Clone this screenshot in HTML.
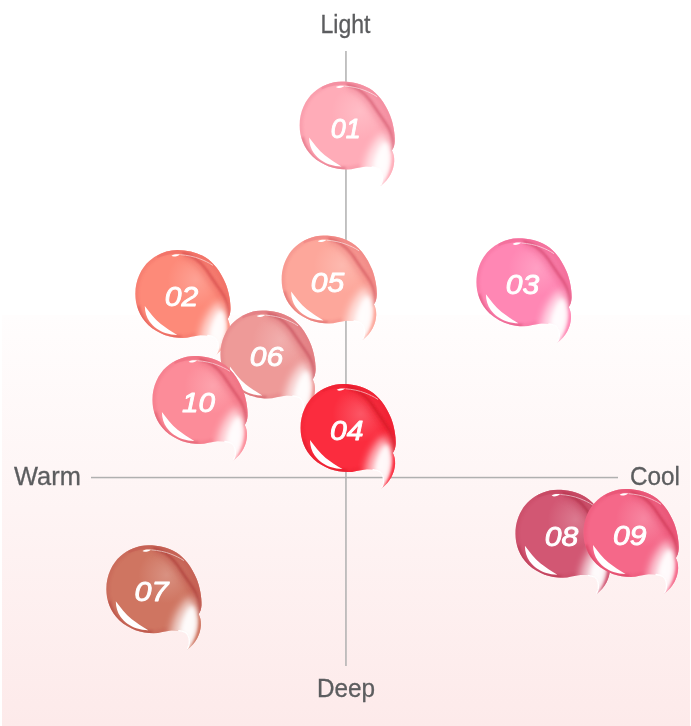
<!DOCTYPE html>
<html><head><meta charset="utf-8"><title>Color chart</title>
<style>
html,body{margin:0;padding:0;background:#fff;}
body{width:691px;height:726px;overflow:hidden;position:relative;font-family:"Liberation Sans",sans-serif;}
svg{position:absolute;left:0;top:0;display:block}
.lab{font-family:"Liberation Sans",sans-serif;font-size:25px;fill:#5c5d5f;stroke:#5c5d5f;stroke-width:.3px}
.num{font-family:"Liberation Sans",sans-serif;font-size:28px;font-weight:normal;font-style:italic;fill:#fff;stroke:#fff;stroke-width:.9px;stroke-linejoin:round}
</style></head><body>
<svg width="691" height="726" viewBox="0 0 691 726">
<defs>
<linearGradient id="bg" x1="0" y1="0" x2="0" y2="1"><stop offset="0" stop-color="#fffdfd"/><stop offset="1" stop-color="#fdeaea"/></linearGradient>
<clipPath id="cp"><path d="M42 0 C52 0 62 2.5 70 7.2 C78 12 85 21 90.5 34 C93.5 41.5 95.5 52 95.2 60 C95 63.5 94 66.5 92.3 69 C94 71.5 94.8 75.5 94.6 80 C94 89 90 97.5 81 104.5 C82.5 101 83.5 96 82.5 92.5 C82 90 81 88.5 79.5 87.5 C76 85.5 70 85 65 85.3 C59 86 53 88 47.5 88 C35 88 23 84 13 75 C4 66 0 55 0 44 C0 30 6 18 14 11 C22 4 32 0 42 0Z"/></clipPath>
<filter id="b1" x="-30%" y="-30%" width="160%" height="160%"><feGaussianBlur stdDeviation="1"/></filter>
<filter id="b2" x="-50%" y="-50%" width="200%" height="200%"><feGaussianBlur stdDeviation="2.5"/></filter>
<filter id="b4" x="-80%" y="-80%" width="260%" height="260%"><feGaussianBlur stdDeviation="4"/></filter>
<filter id="b15" x="-50%" y="-50%" width="200%" height="200%"><feGaussianBlur stdDeviation="1.5"/></filter>
<filter id="b07" x="-30%" y="-30%" width="160%" height="160%"><feGaussianBlur stdDeviation="0.7"/></filter>
<filter id="b03" x="-30%" y="-30%" width="160%" height="160%"><feGaussianBlur stdDeviation="0.3"/></filter>
<filter id="b2s" x="-50%" y="-50%" width="200%" height="200%"><feGaussianBlur stdDeviation="1.9"/></filter>
<filter id="b05" x="-30%" y="-30%" width="160%" height="160%"><feGaussianBlur stdDeviation="0.5"/></filter>

<radialGradient id="g01" gradientUnits="userSpaceOnUse" cx="60" cy="30" r="62"><stop offset="0" stop-color="#ffbdc6"/><stop offset="0.45" stop-color="#ffacb8"/><stop offset="1" stop-color="#ffacb8"/></radialGradient>
<radialGradient id="g02" gradientUnits="userSpaceOnUse" cx="60" cy="30" r="62"><stop offset="0" stop-color="#fda194"/><stop offset="0.45" stop-color="#fd8a79"/><stop offset="1" stop-color="#fd8a79"/></radialGradient>
<radialGradient id="g03" gradientUnits="userSpaceOnUse" cx="60" cy="30" r="62"><stop offset="0" stop-color="#ff9fc3"/><stop offset="0.45" stop-color="#ff87b4"/><stop offset="1" stop-color="#ff87b4"/></radialGradient>
<radialGradient id="g05" gradientUnits="userSpaceOnUse" cx="60" cy="30" r="62"><stop offset="0" stop-color="#fdb9af"/><stop offset="0.45" stop-color="#fda79b"/><stop offset="1" stop-color="#fda79b"/></radialGradient>
<radialGradient id="g06" gradientUnits="userSpaceOnUse" cx="60" cy="30" r="62"><stop offset="0" stop-color="#f1aead"/><stop offset="0.45" stop-color="#ee9a98"/><stop offset="1" stop-color="#ee9a98"/></radialGradient>
<radialGradient id="g10" gradientUnits="userSpaceOnUse" cx="60" cy="30" r="62"><stop offset="0" stop-color="#fda3ad"/><stop offset="0.45" stop-color="#fc8c99"/><stop offset="1" stop-color="#fc8c99"/></radialGradient>
<radialGradient id="g04" gradientUnits="userSpaceOnUse" cx="60" cy="30" r="62"><stop offset="0" stop-color="#fc5665"/><stop offset="0.45" stop-color="#fb2c3e"/><stop offset="1" stop-color="#fb2c3e"/></radialGradient>
<radialGradient id="g07" gradientUnits="userSpaceOnUse" cx="60" cy="30" r="62"><stop offset="0" stop-color="#d99181"/><stop offset="0.45" stop-color="#cf7561"/><stop offset="1" stop-color="#cf7561"/></radialGradient>
<radialGradient id="g08" gradientUnits="userSpaceOnUse" cx="60" cy="30" r="62"><stop offset="0" stop-color="#db798f"/><stop offset="0.45" stop-color="#d25773"/><stop offset="1" stop-color="#d25773"/></radialGradient>
<radialGradient id="g09" gradientUnits="userSpaceOnUse" cx="60" cy="30" r="62"><stop offset="0" stop-color="#f786a1"/><stop offset="0.45" stop-color="#f56889"/><stop offset="1" stop-color="#f56889"/></radialGradient>
</defs>
<rect x="2" y="315" width="688" height="411" fill="url(#bg)"/>
<rect x="345.2" y="51" width="1.5" height="615" fill="#b0b0b0"/>
<rect x="91" y="476.8" width="527" height="1.5" fill="#b0b0b0"/>
<text class="lab" x="320.5" y="33" textLength="50" lengthAdjust="spacingAndGlyphs">Light</text>
<text class="lab" x="14" y="485.3" textLength="66.8" lengthAdjust="spacingAndGlyphs">Warm</text>
<text class="lab" x="630" y="485.3" textLength="50" lengthAdjust="spacingAndGlyphs">Cool</text>
<text class="lab" x="317" y="696.6" textLength="58" lengthAdjust="spacingAndGlyphs">Deep</text>
<g transform="translate(299.6 81.4)">
<path d="M42 0 C52 0 62 2.5 70 7.2 C78 12 85 21 90.5 34 C93.5 41.5 95.5 52 95.2 60 C95 63.5 94 66.5 92.3 69 C94 71.5 94.8 75.5 94.6 80 C94 89 90 97.5 81 104.5 C82.5 101 83.5 96 82.5 92.5 C82 90 81 88.5 79.5 87.5 C76 85.5 70 85 65 85.3 C59 86 53 88 47.5 88 C35 88 23 84 13 75 C4 66 0 55 0 44 C0 30 6 18 14 11 C22 4 32 0 42 0Z" fill="url(#g01)"/>
<g clip-path="url(#cp)">
<path d="M95.2 60 C95.5 52 93.5 41.5 90.5 34 C85 21 78 12 70 7.2 C62 2.5 52 0 42 0 C32 0 22 4 14 11 C6 18 0 30 0 44 C0 55 4 66 13 75 C23 84 35 88 47.5 88 C52 88 57 86.5 61 85.8" fill="none" stroke="#f08699" stroke-width="6.5" filter="url(#b1)" opacity=".32"/>
<path d="M22 8 C30 4.6 40 3.2 48 3.5 C58 5.5 65 12 71 20 C76 27.5 81 35 86 42 C89.5 47 92.5 54 93.2 62 L93 68 L99 62 L96 30 L80 8 L60 -2 L22 -2Z" fill="#f08699" opacity=".58" filter="url(#b05)"/>
<path d="M50 6.5 C58 9 63 14 69 22 C74 29.5 79 37 84 44 C87.5 49 90 56 90.5 64" fill="none" stroke="#f08699" stroke-width="6" stroke-linecap="round" filter="url(#b2)" opacity=".5"/>
<path d="M48 3.5 C58 5.5 65 12 71 20 C76 27.5 81 35 86 42 C89.5 47 92.5 54 93.2 62 C93.4 65 93 67.5 92.3 69" fill="none" stroke="#db677b" stroke-width="2.8" stroke-linecap="round" filter="url(#b1)" opacity=".85"/>
<path d="M45 4.7 C52 5.2 59 6.6 64.5 8.8 C69 10.6 73 12.3 77.6 15.4" fill="none" stroke="#fff" stroke-width="1" filter="url(#b05)" opacity=".55"/>
<path d="M83 52 C88 54 91 64 91 74 C91 84 88 96 82 104 L72 94 L65 92 C65 82 68 72 73 64 C76 59 79 55 83 52Z" fill="#fff" filter="url(#b4)" opacity=".7"/>
<path d="M86 60 C89 62 91 69 91 77 C91 86 87.5 97 80.5 106 L77 99 C80 95 80.5 91.5 78.5 89.5 C77 88.3 75.5 88 74 88 C74 82 76 75 79 69 C81 65 83.5 61.5 86 60Z" fill="#fff" filter="url(#b2s)" opacity=".9"/>
<path d="M92.3 68.5 C94 72 95.8 76 95.6 80 C95 89 91 98 82 105.5 C86.5 99 90.3 92 91.8 85 C93 79 93.4 74 92 69.5Z" fill="#ffacb8" filter="url(#b1)"/>
<path d="M2.5 56 C5 66 10 74 18 80 C26 85.5 36 87.5 46 87" fill="none" stroke="#db677b" stroke-width="3.2" filter="url(#b1)" opacity=".55"/>
<path d="M9.5 56 C9.6 62 11.3 67.5 14.2 71.5 C18.3 77.2 24.5 81.2 30 83 C34 84.3 38 85 42 85 C36 81.5 30 77.5 25.2 73.8 C19 68.5 14 62 9.5 56Z" fill="#fff" filter="url(#b03)"/>
<path d="M36.2 5.7 C38.5 4.4 41.5 4 44.8 4.5 C43.5 5.7 41 6.6 38.5 6.6 C37.5 6.5 36.7 6.2 36.2 5.7Z" fill="#fff" filter="url(#b05)"/>
</g>
<path d="M81.3 103.5 C82.5 101 83.5 96 82.5 92.5 C82 90 81 88.5 79.5 87.5 C77.5 86.4 75 85.8 72.5 85.5" fill="none" stroke="#fff" stroke-width="1.3" stroke-linecap="round" filter="url(#b03)"/>
<text class="num" x="31.1" y="56.2" textLength="30.0" lengthAdjust="spacingAndGlyphs">01</text>
</g>
<g transform="translate(135.3 250.0)">
<path d="M42 0 C52 0 62 2.5 70 7.2 C78 12 85 21 90.5 34 C93.5 41.5 95.5 52 95.2 60 C95 63.5 94 66.5 92.3 69 C94 71.5 94.8 75.5 94.6 80 C94 89 90 97.5 81 104.5 C82.5 101 83.5 96 82.5 92.5 C82 90 81 88.5 79.5 87.5 C76 85.5 70 85 65 85.3 C59 86 53 88 47.5 88 C35 88 23 84 13 75 C4 66 0 55 0 44 C0 30 6 18 14 11 C22 4 32 0 42 0Z" fill="url(#g02)"/>
<g clip-path="url(#cp)">
<path d="M95.2 60 C95.5 52 93.5 41.5 90.5 34 C85 21 78 12 70 7.2 C62 2.5 52 0 42 0 C32 0 22 4 14 11 C6 18 0 30 0 44 C0 55 4 66 13 75 C23 84 35 88 47.5 88 C52 88 57 86.5 61 85.8" fill="none" stroke="#ee6c64" stroke-width="6.5" filter="url(#b1)" opacity=".32"/>
<path d="M22 8 C30 4.6 40 3.2 48 3.5 C58 5.5 65 12 71 20 C76 27.5 81 35 86 42 C89.5 47 92.5 54 93.2 62 L93 68 L99 62 L96 30 L80 8 L60 -2 L22 -2Z" fill="#ee6c64" opacity=".58" filter="url(#b05)"/>
<path d="M50 6.5 C58 9 63 14 69 22 C74 29.5 79 37 84 44 C87.5 49 90 56 90.5 64" fill="none" stroke="#ee6c64" stroke-width="6" stroke-linecap="round" filter="url(#b2)" opacity=".5"/>
<path d="M48 3.5 C58 5.5 65 12 71 20 C76 27.5 81 35 86 42 C89.5 47 92.5 54 93.2 62 C93.4 65 93 67.5 92.3 69" fill="none" stroke="#da5351" stroke-width="2.8" stroke-linecap="round" filter="url(#b1)" opacity=".85"/>
<path d="M45 4.7 C52 5.2 59 6.6 64.5 8.8 C69 10.6 73 12.3 77.6 15.4" fill="none" stroke="#fff" stroke-width="1" filter="url(#b05)" opacity=".55"/>
<path d="M83 52 C88 54 91 64 91 74 C91 84 88 96 82 104 L72 94 L65 92 C65 82 68 72 73 64 C76 59 79 55 83 52Z" fill="#fff" filter="url(#b4)" opacity=".7"/>
<path d="M86 60 C89 62 91 69 91 77 C91 86 87.5 97 80.5 106 L77 99 C80 95 80.5 91.5 78.5 89.5 C77 88.3 75.5 88 74 88 C74 82 76 75 79 69 C81 65 83.5 61.5 86 60Z" fill="#fff" filter="url(#b2s)" opacity=".9"/>
<path d="M92.3 68.5 C94 72 95.8 76 95.6 80 C95 89 91 98 82 105.5 C86.5 99 90.3 92 91.8 85 C93 79 93.4 74 92 69.5Z" fill="#fd8a79" filter="url(#b1)"/>
<path d="M2.5 56 C5 66 10 74 18 80 C26 85.5 36 87.5 46 87" fill="none" stroke="#da5351" stroke-width="3.2" filter="url(#b1)" opacity=".55"/>
<path d="M9.5 56 C9.6 62 11.3 67.5 14.2 71.5 C18.3 77.2 24.5 81.2 30 83 C34 84.3 38 85 42 85 C36 81.5 30 77.5 25.2 73.8 C19 68.5 14 62 9.5 56Z" fill="#fff" filter="url(#b03)"/>
<path d="M36.2 5.7 C38.5 4.4 41.5 4 44.8 4.5 C43.5 5.7 41 6.6 38.5 6.6 C37.5 6.5 36.7 6.2 36.2 5.7Z" fill="#fff" filter="url(#b05)"/>
</g>
<path d="M81.3 103.5 C82.5 101 83.5 96 82.5 92.5 C82 90 81 88.5 79.5 87.5 C77.5 86.4 75 85.8 72.5 85.5" fill="none" stroke="#fff" stroke-width="1.3" stroke-linecap="round" filter="url(#b03)"/>
<text class="num" x="29.4" y="56.2" textLength="33.5" lengthAdjust="spacingAndGlyphs">02</text>
</g>
<g transform="translate(476.4 238.3)">
<path d="M42 0 C52 0 62 2.5 70 7.2 C78 12 85 21 90.5 34 C93.5 41.5 95.5 52 95.2 60 C95 63.5 94 66.5 92.3 69 C94 71.5 94.8 75.5 94.6 80 C94 89 90 97.5 81 104.5 C82.5 101 83.5 96 82.5 92.5 C82 90 81 88.5 79.5 87.5 C76 85.5 70 85 65 85.3 C59 86 53 88 47.5 88 C35 88 23 84 13 75 C4 66 0 55 0 44 C0 30 6 18 14 11 C22 4 32 0 42 0Z" fill="url(#g03)"/>
<g clip-path="url(#cp)">
<path d="M95.2 60 C95.5 52 93.5 41.5 90.5 34 C85 21 78 12 70 7.2 C62 2.5 52 0 42 0 C32 0 22 4 14 11 C6 18 0 30 0 44 C0 55 4 66 13 75 C23 84 35 88 47.5 88 C52 88 57 86.5 61 85.8" fill="none" stroke="#f06995" stroke-width="6.5" filter="url(#b1)" opacity=".32"/>
<path d="M22 8 C30 4.6 40 3.2 48 3.5 C58 5.5 65 12 71 20 C76 27.5 81 35 86 42 C89.5 47 92.5 54 93.2 62 L93 68 L99 62 L96 30 L80 8 L60 -2 L22 -2Z" fill="#f06995" opacity=".58" filter="url(#b05)"/>
<path d="M50 6.5 C58 9 63 14 69 22 C74 29.5 79 37 84 44 C87.5 49 90 56 90.5 64" fill="none" stroke="#f06995" stroke-width="6" stroke-linecap="round" filter="url(#b2)" opacity=".5"/>
<path d="M48 3.5 C58 5.5 65 12 71 20 C76 27.5 81 35 86 42 C89.5 47 92.5 54 93.2 62 C93.4 65 93 67.5 92.3 69" fill="none" stroke="#db5179" stroke-width="2.8" stroke-linecap="round" filter="url(#b1)" opacity=".85"/>
<path d="M45 4.7 C52 5.2 59 6.6 64.5 8.8 C69 10.6 73 12.3 77.6 15.4" fill="none" stroke="#fff" stroke-width="1" filter="url(#b05)" opacity=".55"/>
<path d="M83 52 C88 54 91 64 91 74 C91 84 88 96 82 104 L72 94 L65 92 C65 82 68 72 73 64 C76 59 79 55 83 52Z" fill="#fff" filter="url(#b4)" opacity=".7"/>
<path d="M86 60 C89 62 91 69 91 77 C91 86 87.5 97 80.5 106 L77 99 C80 95 80.5 91.5 78.5 89.5 C77 88.3 75.5 88 74 88 C74 82 76 75 79 69 C81 65 83.5 61.5 86 60Z" fill="#fff" filter="url(#b2s)" opacity=".9"/>
<path d="M92.3 68.5 C94 72 95.8 76 95.6 80 C95 89 91 98 82 105.5 C86.5 99 90.3 92 91.8 85 C93 79 93.4 74 92 69.5Z" fill="#ff87b4" filter="url(#b1)"/>
<path d="M2.5 56 C5 66 10 74 18 80 C26 85.5 36 87.5 46 87" fill="none" stroke="#db5179" stroke-width="3.2" filter="url(#b1)" opacity=".55"/>
<path d="M9.5 56 C9.6 62 11.3 67.5 14.2 71.5 C18.3 77.2 24.5 81.2 30 83 C34 84.3 38 85 42 85 C36 81.5 30 77.5 25.2 73.8 C19 68.5 14 62 9.5 56Z" fill="#fff" filter="url(#b03)"/>
<path d="M36.2 5.7 C38.5 4.4 41.5 4 44.8 4.5 C43.5 5.7 41 6.6 38.5 6.6 C37.5 6.5 36.7 6.2 36.2 5.7Z" fill="#fff" filter="url(#b05)"/>
</g>
<path d="M81.3 103.5 C82.5 101 83.5 96 82.5 92.5 C82 90 81 88.5 79.5 87.5 C77.5 86.4 75 85.8 72.5 85.5" fill="none" stroke="#fff" stroke-width="1.3" stroke-linecap="round" filter="url(#b03)"/>
<text class="num" x="29.4" y="56.2" textLength="33.5" lengthAdjust="spacingAndGlyphs">03</text>
</g>
<g transform="translate(281.6 235.5)">
<path d="M42 0 C52 0 62 2.5 70 7.2 C78 12 85 21 90.5 34 C93.5 41.5 95.5 52 95.2 60 C95 63.5 94 66.5 92.3 69 C94 71.5 94.8 75.5 94.6 80 C94 89 90 97.5 81 104.5 C82.5 101 83.5 96 82.5 92.5 C82 90 81 88.5 79.5 87.5 C76 85.5 70 85 65 85.3 C59 86 53 88 47.5 88 C35 88 23 84 13 75 C4 66 0 55 0 44 C0 30 6 18 14 11 C22 4 32 0 42 0Z" fill="url(#g05)"/>
<g clip-path="url(#cp)">
<path d="M95.2 60 C95.5 52 93.5 41.5 90.5 34 C85 21 78 12 70 7.2 C62 2.5 52 0 42 0 C32 0 22 4 14 11 C6 18 0 30 0 44 C0 55 4 66 13 75 C23 84 35 88 47.5 88 C52 88 57 86.5 61 85.8" fill="none" stroke="#ee8281" stroke-width="6.5" filter="url(#b1)" opacity=".32"/>
<path d="M22 8 C30 4.6 40 3.2 48 3.5 C58 5.5 65 12 71 20 C76 27.5 81 35 86 42 C89.5 47 92.5 54 93.2 62 L93 68 L99 62 L96 30 L80 8 L60 -2 L22 -2Z" fill="#ee8281" opacity=".58" filter="url(#b05)"/>
<path d="M50 6.5 C58 9 63 14 69 22 C74 29.5 79 37 84 44 C87.5 49 90 56 90.5 64" fill="none" stroke="#ee8281" stroke-width="6" stroke-linecap="round" filter="url(#b2)" opacity=".5"/>
<path d="M48 3.5 C58 5.5 65 12 71 20 C76 27.5 81 35 86 42 C89.5 47 92.5 54 93.2 62 C93.4 65 93 67.5 92.3 69" fill="none" stroke="#da6468" stroke-width="2.8" stroke-linecap="round" filter="url(#b1)" opacity=".85"/>
<path d="M45 4.7 C52 5.2 59 6.6 64.5 8.8 C69 10.6 73 12.3 77.6 15.4" fill="none" stroke="#fff" stroke-width="1" filter="url(#b05)" opacity=".55"/>
<path d="M83 52 C88 54 91 64 91 74 C91 84 88 96 82 104 L72 94 L65 92 C65 82 68 72 73 64 C76 59 79 55 83 52Z" fill="#fff" filter="url(#b4)" opacity=".7"/>
<path d="M86 60 C89 62 91 69 91 77 C91 86 87.5 97 80.5 106 L77 99 C80 95 80.5 91.5 78.5 89.5 C77 88.3 75.5 88 74 88 C74 82 76 75 79 69 C81 65 83.5 61.5 86 60Z" fill="#fff" filter="url(#b2s)" opacity=".9"/>
<path d="M92.3 68.5 C94 72 95.8 76 95.6 80 C95 89 91 98 82 105.5 C86.5 99 90.3 92 91.8 85 C93 79 93.4 74 92 69.5Z" fill="#fda79b" filter="url(#b1)"/>
<path d="M2.5 56 C5 66 10 74 18 80 C26 85.5 36 87.5 46 87" fill="none" stroke="#da6468" stroke-width="3.2" filter="url(#b1)" opacity=".55"/>
<path d="M9.5 56 C9.6 62 11.3 67.5 14.2 71.5 C18.3 77.2 24.5 81.2 30 83 C34 84.3 38 85 42 85 C36 81.5 30 77.5 25.2 73.8 C19 68.5 14 62 9.5 56Z" fill="#fff" filter="url(#b03)"/>
<path d="M36.2 5.7 C38.5 4.4 41.5 4 44.8 4.5 C43.5 5.7 41 6.6 38.5 6.6 C37.5 6.5 36.7 6.2 36.2 5.7Z" fill="#fff" filter="url(#b05)"/>
</g>
<path d="M81.3 103.5 C82.5 101 83.5 96 82.5 92.5 C82 90 81 88.5 79.5 87.5 C77.5 86.4 75 85.8 72.5 85.5" fill="none" stroke="#fff" stroke-width="1.3" stroke-linecap="round" filter="url(#b03)"/>
<text class="num" x="29.1" y="56.2" textLength="33.5" lengthAdjust="spacingAndGlyphs">05</text>
</g>
<g transform="translate(220.4 310.4)">
<path d="M42 0 C52 0 62 2.5 70 7.2 C78 12 85 21 90.5 34 C93.5 41.5 95.5 52 95.2 60 C95 63.5 94 66.5 92.3 69 C94 71.5 94.8 75.5 94.6 80 C94 89 90 97.5 81 104.5 C82.5 101 83.5 96 82.5 92.5 C82 90 81 88.5 79.5 87.5 C76 85.5 70 85 65 85.3 C59 86 53 88 47.5 88 C35 88 23 84 13 75 C4 66 0 55 0 44 C0 30 6 18 14 11 C22 4 32 0 42 0Z" fill="url(#g06)"/>
<g clip-path="url(#cp)">
<path d="M95.2 60 C95.5 52 93.5 41.5 90.5 34 C85 21 78 12 70 7.2 C62 2.5 52 0 42 0 C32 0 22 4 14 11 C6 18 0 30 0 44 C0 55 4 66 13 75 C23 84 35 88 47.5 88 C52 88 57 86.5 61 85.8" fill="none" stroke="#e0787e" stroke-width="6.5" filter="url(#b1)" opacity=".32"/>
<path d="M22 8 C30 4.6 40 3.2 48 3.5 C58 5.5 65 12 71 20 C76 27.5 81 35 86 42 C89.5 47 92.5 54 93.2 62 L93 68 L99 62 L96 30 L80 8 L60 -2 L22 -2Z" fill="#e0787e" opacity=".58" filter="url(#b05)"/>
<path d="M50 6.5 C58 9 63 14 69 22 C74 29.5 79 37 84 44 C87.5 49 90 56 90.5 64" fill="none" stroke="#e0787e" stroke-width="6" stroke-linecap="round" filter="url(#b2)" opacity=".5"/>
<path d="M48 3.5 C58 5.5 65 12 71 20 C76 27.5 81 35 86 42 C89.5 47 92.5 54 93.2 62 C93.4 65 93 67.5 92.3 69" fill="none" stroke="#cd5c66" stroke-width="2.8" stroke-linecap="round" filter="url(#b1)" opacity=".85"/>
<path d="M45 4.7 C52 5.2 59 6.6 64.5 8.8 C69 10.6 73 12.3 77.6 15.4" fill="none" stroke="#fff" stroke-width="1" filter="url(#b05)" opacity=".55"/>
<path d="M83 52 C88 54 91 64 91 74 C91 84 88 96 82 104 L72 94 L65 92 C65 82 68 72 73 64 C76 59 79 55 83 52Z" fill="#fff" filter="url(#b4)" opacity=".7"/>
<path d="M86 60 C89 62 91 69 91 77 C91 86 87.5 97 80.5 106 L77 99 C80 95 80.5 91.5 78.5 89.5 C77 88.3 75.5 88 74 88 C74 82 76 75 79 69 C81 65 83.5 61.5 86 60Z" fill="#fff" filter="url(#b2s)" opacity=".9"/>
<path d="M92.3 68.5 C94 72 95.8 76 95.6 80 C95 89 91 98 82 105.5 C86.5 99 90.3 92 91.8 85 C93 79 93.4 74 92 69.5Z" fill="#ee9a98" filter="url(#b1)"/>
<path d="M2.5 56 C5 66 10 74 18 80 C26 85.5 36 87.5 46 87" fill="none" stroke="#cd5c66" stroke-width="3.2" filter="url(#b1)" opacity=".55"/>
<path d="M9.5 56 C9.6 62 11.3 67.5 14.2 71.5 C18.3 77.2 24.5 81.2 30 83 C34 84.3 38 85 42 85 C36 81.5 30 77.5 25.2 73.8 C19 68.5 14 62 9.5 56Z" fill="#fff" filter="url(#b03)"/>
<path d="M36.2 5.7 C38.5 4.4 41.5 4 44.8 4.5 C43.5 5.7 41 6.6 38.5 6.6 C37.5 6.5 36.7 6.2 36.2 5.7Z" fill="#fff" filter="url(#b05)"/>
</g>
<path d="M81.3 103.5 C82.5 101 83.5 96 82.5 92.5 C82 90 81 88.5 79.5 87.5 C77.5 86.4 75 85.8 72.5 85.5" fill="none" stroke="#fff" stroke-width="1.3" stroke-linecap="round" filter="url(#b03)"/>
<text class="num" x="29.4" y="55.4" textLength="33.5" lengthAdjust="spacingAndGlyphs">06</text>
</g>
<g transform="translate(152.4 356.0)">
<path d="M42 0 C52 0 62 2.5 70 7.2 C78 12 85 21 90.5 34 C93.5 41.5 95.5 52 95.2 60 C95 63.5 94 66.5 92.3 69 C94 71.5 94.8 75.5 94.6 80 C94 89 90 97.5 81 104.5 C82.5 101 83.5 96 82.5 92.5 C82 90 81 88.5 79.5 87.5 C76 85.5 70 85 65 85.3 C59 86 53 88 47.5 88 C35 88 23 84 13 75 C4 66 0 55 0 44 C0 30 6 18 14 11 C22 4 32 0 42 0Z" fill="url(#g10)"/>
<g clip-path="url(#cp)">
<path d="M95.2 60 C95.5 52 93.5 41.5 90.5 34 C85 21 78 12 70 7.2 C62 2.5 52 0 42 0 C32 0 22 4 14 11 C6 18 0 30 0 44 C0 55 4 66 13 75 C23 84 35 88 47.5 88 C52 88 57 86.5 61 85.8" fill="none" stroke="#ed6d7f" stroke-width="6.5" filter="url(#b1)" opacity=".32"/>
<path d="M22 8 C30 4.6 40 3.2 48 3.5 C58 5.5 65 12 71 20 C76 27.5 81 35 86 42 C89.5 47 92.5 54 93.2 62 L93 68 L99 62 L96 30 L80 8 L60 -2 L22 -2Z" fill="#ed6d7f" opacity=".58" filter="url(#b05)"/>
<path d="M50 6.5 C58 9 63 14 69 22 C74 29.5 79 37 84 44 C87.5 49 90 56 90.5 64" fill="none" stroke="#ed6d7f" stroke-width="6" stroke-linecap="round" filter="url(#b2)" opacity=".5"/>
<path d="M48 3.5 C58 5.5 65 12 71 20 C76 27.5 81 35 86 42 C89.5 47 92.5 54 93.2 62 C93.4 65 93 67.5 92.3 69" fill="none" stroke="#d95467" stroke-width="2.8" stroke-linecap="round" filter="url(#b1)" opacity=".85"/>
<path d="M45 4.7 C52 5.2 59 6.6 64.5 8.8 C69 10.6 73 12.3 77.6 15.4" fill="none" stroke="#fff" stroke-width="1" filter="url(#b05)" opacity=".55"/>
<path d="M83 52 C88 54 91 64 91 74 C91 84 88 96 82 104 L72 94 L65 92 C65 82 68 72 73 64 C76 59 79 55 83 52Z" fill="#fff" filter="url(#b4)" opacity=".7"/>
<path d="M86 60 C89 62 91 69 91 77 C91 86 87.5 97 80.5 106 L77 99 C80 95 80.5 91.5 78.5 89.5 C77 88.3 75.5 88 74 88 C74 82 76 75 79 69 C81 65 83.5 61.5 86 60Z" fill="#fff" filter="url(#b2s)" opacity=".9"/>
<path d="M92.3 68.5 C94 72 95.8 76 95.6 80 C95 89 91 98 82 105.5 C86.5 99 90.3 92 91.8 85 C93 79 93.4 74 92 69.5Z" fill="#fc8c99" filter="url(#b1)"/>
<path d="M2.5 56 C5 66 10 74 18 80 C26 85.5 36 87.5 46 87" fill="none" stroke="#d95467" stroke-width="3.2" filter="url(#b1)" opacity=".55"/>
<path d="M9.5 56 C9.6 62 11.3 67.5 14.2 71.5 C18.3 77.2 24.5 81.2 30 83 C34 84.3 38 85 42 85 C36 81.5 30 77.5 25.2 73.8 C19 68.5 14 62 9.5 56Z" fill="#fff" filter="url(#b03)"/>
<path d="M36.2 5.7 C38.5 4.4 41.5 4 44.8 4.5 C43.5 5.7 41 6.6 38.5 6.6 C37.5 6.5 36.7 6.2 36.2 5.7Z" fill="#fff" filter="url(#b05)"/>
</g>
<path d="M81.3 103.5 C82.5 101 83.5 96 82.5 92.5 C82 90 81 88.5 79.5 87.5 C77.5 86.4 75 85.8 72.5 85.5" fill="none" stroke="#fff" stroke-width="1.3" stroke-linecap="round" filter="url(#b03)"/>
<text class="num" x="29.6" y="56.2" textLength="33.0" lengthAdjust="spacingAndGlyphs">10</text>
</g>
<g transform="translate(300.5 384.1)">
<path d="M42 0 C52 0 62 2.5 70 7.2 C78 12 85 21 90.5 34 C93.5 41.5 95.5 52 95.2 60 C95 63.5 94 66.5 92.3 69 C94 71.5 94.8 75.5 94.6 80 C94 89 90 97.5 81 104.5 C82.5 101 83.5 96 82.5 92.5 C82 90 81 88.5 79.5 87.5 C76 85.5 70 85 65 85.3 C59 86 53 88 47.5 88 C35 88 23 84 13 75 C4 66 0 55 0 44 C0 30 6 18 14 11 C22 4 32 0 42 0Z" fill="url(#g04)"/>
<g clip-path="url(#cp)">
<path d="M95.2 60 C95.5 52 93.5 41.5 90.5 34 C85 21 78 12 70 7.2 C62 2.5 52 0 42 0 C32 0 22 4 14 11 C6 18 0 30 0 44 C0 55 4 66 13 75 C23 84 35 88 47.5 88 C52 88 57 86.5 61 85.8" fill="none" stroke="#ec2233" stroke-width="6.5" filter="url(#b1)" opacity=".32"/>
<path d="M22 8 C30 4.6 40 3.2 48 3.5 C58 5.5 65 12 71 20 C76 27.5 81 35 86 42 C89.5 47 92.5 54 93.2 62 L93 68 L99 62 L96 30 L80 8 L60 -2 L22 -2Z" fill="#ec2233" opacity=".58" filter="url(#b05)"/>
<path d="M50 6.5 C58 9 63 14 69 22 C74 29.5 79 37 84 44 C87.5 49 90 56 90.5 64" fill="none" stroke="#ec2233" stroke-width="6" stroke-linecap="round" filter="url(#b2)" opacity=".5"/>
<path d="M48 3.5 C58 5.5 65 12 71 20 C76 27.5 81 35 86 42 C89.5 47 92.5 54 93.2 62 C93.4 65 93 67.5 92.3 69" fill="none" stroke="#d81a2a" stroke-width="2.8" stroke-linecap="round" filter="url(#b1)" opacity=".85"/>
<path d="M45 4.7 C52 5.2 59 6.6 64.5 8.8 C69 10.6 73 12.3 77.6 15.4" fill="none" stroke="#fff" stroke-width="1" filter="url(#b05)" opacity=".55"/>
<path d="M83 52 C88 54 91 64 91 74 C91 84 88 96 82 104 L72 94 L65 92 C65 82 68 72 73 64 C76 59 79 55 83 52Z" fill="#fff" filter="url(#b4)" opacity=".7"/>
<path d="M86 60 C89 62 91 69 91 77 C91 86 87.5 97 80.5 106 L77 99 C80 95 80.5 91.5 78.5 89.5 C77 88.3 75.5 88 74 88 C74 82 76 75 79 69 C81 65 83.5 61.5 86 60Z" fill="#fff" filter="url(#b2s)" opacity=".9"/>
<path d="M92.3 68.5 C94 72 95.8 76 95.6 80 C95 89 91 98 82 105.5 C86.5 99 90.3 92 91.8 85 C93 79 93.4 74 92 69.5Z" fill="#fb2c3e" filter="url(#b1)"/>
<path d="M2.5 56 C5 66 10 74 18 80 C26 85.5 36 87.5 46 87" fill="none" stroke="#d81a2a" stroke-width="3.2" filter="url(#b1)" opacity=".55"/>
<path d="M9.5 56 C9.6 62 11.3 67.5 14.2 71.5 C18.3 77.2 24.5 81.2 30 83 C34 84.3 38 85 42 85 C36 81.5 30 77.5 25.2 73.8 C19 68.5 14 62 9.5 56Z" fill="#fff" filter="url(#b03)"/>
<path d="M36.2 5.7 C38.5 4.4 41.5 4 44.8 4.5 C43.5 5.7 41 6.6 38.5 6.6 C37.5 6.5 36.7 6.2 36.2 5.7Z" fill="#fff" filter="url(#b05)"/>
</g>
<path d="M81.3 103.5 C82.5 101 83.5 96 82.5 92.5 C82 90 81 88.5 79.5 87.5 C77.5 86.4 75 85.8 72.5 85.5" fill="none" stroke="#fff" stroke-width="1.3" stroke-linecap="round" filter="url(#b03)"/>
<text class="num" x="29.4" y="56.2" textLength="33.5" lengthAdjust="spacingAndGlyphs">04</text>
</g>
<g transform="translate(106.3 545.2)">
<path d="M42 0 C52 0 62 2.5 70 7.2 C78 12 85 21 90.5 34 C93.5 41.5 95.5 52 95.2 60 C95 63.5 94 66.5 92.3 69 C94 71.5 94.8 75.5 94.6 80 C94 89 90 97.5 81 104.5 C82.5 101 83.5 96 82.5 92.5 C82 90 81 88.5 79.5 87.5 C76 85.5 70 85 65 85.3 C59 86 53 88 47.5 88 C35 88 23 84 13 75 C4 66 0 55 0 44 C0 30 6 18 14 11 C22 4 32 0 42 0Z" fill="url(#g07)"/>
<g clip-path="url(#cp)">
<path d="M95.2 60 C95.5 52 93.5 41.5 90.5 34 C85 21 78 12 70 7.2 C62 2.5 52 0 42 0 C32 0 22 4 14 11 C6 18 0 30 0 44 C0 55 4 66 13 75 C23 84 35 88 47.5 88 C52 88 57 86.5 61 85.8" fill="none" stroke="#c35b51" stroke-width="6.5" filter="url(#b1)" opacity=".32"/>
<path d="M22 8 C30 4.6 40 3.2 48 3.5 C58 5.5 65 12 71 20 C76 27.5 81 35 86 42 C89.5 47 92.5 54 93.2 62 L93 68 L99 62 L96 30 L80 8 L60 -2 L22 -2Z" fill="#c35b51" opacity=".58" filter="url(#b05)"/>
<path d="M50 6.5 C58 9 63 14 69 22 C74 29.5 79 37 84 44 C87.5 49 90 56 90.5 64" fill="none" stroke="#c35b51" stroke-width="6" stroke-linecap="round" filter="url(#b2)" opacity=".5"/>
<path d="M48 3.5 C58 5.5 65 12 71 20 C76 27.5 81 35 86 42 C89.5 47 92.5 54 93.2 62 C93.4 65 93 67.5 92.3 69" fill="none" stroke="#b24641" stroke-width="2.8" stroke-linecap="round" filter="url(#b1)" opacity=".85"/>
<path d="M45 4.7 C52 5.2 59 6.6 64.5 8.8 C69 10.6 73 12.3 77.6 15.4" fill="none" stroke="#fff" stroke-width="1" filter="url(#b05)" opacity=".55"/>
<path d="M83 52 C88 54 91 64 91 74 C91 84 88 96 82 104 L72 94 L65 92 C65 82 68 72 73 64 C76 59 79 55 83 52Z" fill="#fff" filter="url(#b4)" opacity=".7"/>
<path d="M86 60 C89 62 91 69 91 77 C91 86 87.5 97 80.5 106 L77 99 C80 95 80.5 91.5 78.5 89.5 C77 88.3 75.5 88 74 88 C74 82 76 75 79 69 C81 65 83.5 61.5 86 60Z" fill="#fff" filter="url(#b2s)" opacity=".9"/>
<path d="M92.3 68.5 C94 72 95.8 76 95.6 80 C95 89 91 98 82 105.5 C86.5 99 90.3 92 91.8 85 C93 79 93.4 74 92 69.5Z" fill="#cf7561" filter="url(#b1)"/>
<path d="M2.5 56 C5 66 10 74 18 80 C26 85.5 36 87.5 46 87" fill="none" stroke="#b24641" stroke-width="3.2" filter="url(#b1)" opacity=".55"/>
<path d="M9.5 56 C9.6 62 11.3 67.5 14.2 71.5 C18.3 77.2 24.5 81.2 30 83 C34 84.3 38 85 42 85 C36 81.5 30 77.5 25.2 73.8 C19 68.5 14 62 9.5 56Z" fill="#fff" filter="url(#b03)"/>
<path d="M36.2 5.7 C38.5 4.4 41.5 4 44.8 4.5 C43.5 5.7 41 6.6 38.5 6.6 C37.5 6.5 36.7 6.2 36.2 5.7Z" fill="#fff" filter="url(#b05)"/>
</g>
<path d="M81.3 103.5 C82.5 101 83.5 96 82.5 92.5 C82 90 81 88.5 79.5 87.5 C77.5 86.4 75 85.8 72.5 85.5" fill="none" stroke="#fff" stroke-width="1.3" stroke-linecap="round" filter="url(#b03)"/>
<text class="num" x="28.3" y="56.2" textLength="34.0" lengthAdjust="spacingAndGlyphs">07</text>
</g>
<g transform="translate(515.4 489.8)">
<path d="M42 0 C52 0 62 2.5 70 7.2 C78 12 85 21 90.5 34 C93.5 41.5 95.5 52 95.2 60 C95 63.5 94 66.5 92.3 69 C94 71.5 94.8 75.5 94.6 80 C94 89 90 97.5 81 104.5 C82.5 101 83.5 96 82.5 92.5 C82 90 81 88.5 79.5 87.5 C76 85.5 70 85 65 85.3 C59 86 53 88 47.5 88 C35 88 23 84 13 75 C4 66 0 55 0 44 C0 30 6 18 14 11 C22 4 32 0 42 0Z" fill="url(#g08)"/>
<g clip-path="url(#cp)">
<path d="M95.2 60 C95.5 52 93.5 41.5 90.5 34 C85 21 78 12 70 7.2 C62 2.5 52 0 42 0 C32 0 22 4 14 11 C6 18 0 30 0 44 C0 55 4 66 13 75 C23 84 35 88 47.5 88 C52 88 57 86.5 61 85.8" fill="none" stroke="#c5445f" stroke-width="6.5" filter="url(#b1)" opacity=".32"/>
<path d="M22 8 C30 4.6 40 3.2 48 3.5 C58 5.5 65 12 71 20 C76 27.5 81 35 86 42 C89.5 47 92.5 54 93.2 62 L93 68 L99 62 L96 30 L80 8 L60 -2 L22 -2Z" fill="#c5445f" opacity=".58" filter="url(#b05)"/>
<path d="M50 6.5 C58 9 63 14 69 22 C74 29.5 79 37 84 44 C87.5 49 90 56 90.5 64" fill="none" stroke="#c5445f" stroke-width="6" stroke-linecap="round" filter="url(#b2)" opacity=".5"/>
<path d="M48 3.5 C58 5.5 65 12 71 20 C76 27.5 81 35 86 42 C89.5 47 92.5 54 93.2 62 C93.4 65 93 67.5 92.3 69" fill="none" stroke="#b5344d" stroke-width="2.8" stroke-linecap="round" filter="url(#b1)" opacity=".85"/>
<path d="M45 4.7 C52 5.2 59 6.6 64.5 8.8 C69 10.6 73 12.3 77.6 15.4" fill="none" stroke="#fff" stroke-width="1" filter="url(#b05)" opacity=".55"/>
<path d="M83 52 C88 54 91 64 91 74 C91 84 88 96 82 104 L72 94 L65 92 C65 82 68 72 73 64 C76 59 79 55 83 52Z" fill="#fff" filter="url(#b4)" opacity=".7"/>
<path d="M86 60 C89 62 91 69 91 77 C91 86 87.5 97 80.5 106 L77 99 C80 95 80.5 91.5 78.5 89.5 C77 88.3 75.5 88 74 88 C74 82 76 75 79 69 C81 65 83.5 61.5 86 60Z" fill="#fff" filter="url(#b2s)" opacity=".9"/>
<path d="M92.3 68.5 C94 72 95.8 76 95.6 80 C95 89 91 98 82 105.5 C86.5 99 90.3 92 91.8 85 C93 79 93.4 74 92 69.5Z" fill="#d25773" filter="url(#b1)"/>
<path d="M2.5 56 C5 66 10 74 18 80 C26 85.5 36 87.5 46 87" fill="none" stroke="#b5344d" stroke-width="3.2" filter="url(#b1)" opacity=".55"/>
<path d="M9.5 56 C9.6 62 11.3 67.5 14.2 71.5 C18.3 77.2 24.5 81.2 30 83 C34 84.3 38 85 42 85 C36 81.5 30 77.5 25.2 73.8 C19 68.5 14 62 9.5 56Z" fill="#fff" filter="url(#b03)"/>
<path d="M36.2 5.7 C38.5 4.4 41.5 4 44.8 4.5 C43.5 5.7 41 6.6 38.5 6.6 C37.5 6.5 36.7 6.2 36.2 5.7Z" fill="#fff" filter="url(#b05)"/>
</g>
<path d="M81.3 103.5 C82.5 101 83.5 96 82.5 92.5 C82 90 81 88.5 79.5 87.5 C77.5 86.4 75 85.8 72.5 85.5" fill="none" stroke="#fff" stroke-width="1.3" stroke-linecap="round" filter="url(#b03)"/>
<text class="num" x="29.4" y="56.2" textLength="33.5" lengthAdjust="spacingAndGlyphs">08</text>
</g>
<g transform="translate(583.5 489.0)">
<path d="M42 0 C52 0 62 2.5 70 7.2 C78 12 85 21 90.5 34 C93.5 41.5 95.5 52 95.2 60 C95 63.5 94 66.5 92.3 69 C94 71.5 94.8 75.5 94.6 80 C94 89 90 97.5 81 104.5 C82.5 101 83.5 96 82.5 92.5 C82 90 81 88.5 79.5 87.5 C76 85.5 70 85 65 85.3 C59 86 53 88 47.5 88 C35 88 23 84 13 75 C4 66 0 55 0 44 C0 30 6 18 14 11 C22 4 32 0 42 0Z" fill="url(#g09)"/>
<g clip-path="url(#cp)">
<path d="M95.2 60 C95.5 52 93.5 41.5 90.5 34 C85 21 78 12 70 7.2 C62 2.5 52 0 42 0 C32 0 22 4 14 11 C6 18 0 30 0 44 C0 55 4 66 13 75 C23 84 35 88 47.5 88 C52 88 57 86.5 61 85.8" fill="none" stroke="#e65172" stroke-width="6.5" filter="url(#b1)" opacity=".32"/>
<path d="M22 8 C30 4.6 40 3.2 48 3.5 C58 5.5 65 12 71 20 C76 27.5 81 35 86 42 C89.5 47 92.5 54 93.2 62 L93 68 L99 62 L96 30 L80 8 L60 -2 L22 -2Z" fill="#e65172" opacity=".58" filter="url(#b05)"/>
<path d="M50 6.5 C58 9 63 14 69 22 C74 29.5 79 37 84 44 C87.5 49 90 56 90.5 64" fill="none" stroke="#e65172" stroke-width="6" stroke-linecap="round" filter="url(#b2)" opacity=".5"/>
<path d="M48 3.5 C58 5.5 65 12 71 20 C76 27.5 81 35 86 42 C89.5 47 92.5 54 93.2 62 C93.4 65 93 67.5 92.3 69" fill="none" stroke="#d33e5c" stroke-width="2.8" stroke-linecap="round" filter="url(#b1)" opacity=".85"/>
<path d="M45 4.7 C52 5.2 59 6.6 64.5 8.8 C69 10.6 73 12.3 77.6 15.4" fill="none" stroke="#fff" stroke-width="1" filter="url(#b05)" opacity=".55"/>
<path d="M83 52 C88 54 91 64 91 74 C91 84 88 96 82 104 L72 94 L65 92 C65 82 68 72 73 64 C76 59 79 55 83 52Z" fill="#fff" filter="url(#b4)" opacity=".7"/>
<path d="M86 60 C89 62 91 69 91 77 C91 86 87.5 97 80.5 106 L77 99 C80 95 80.5 91.5 78.5 89.5 C77 88.3 75.5 88 74 88 C74 82 76 75 79 69 C81 65 83.5 61.5 86 60Z" fill="#fff" filter="url(#b2s)" opacity=".9"/>
<path d="M92.3 68.5 C94 72 95.8 76 95.6 80 C95 89 91 98 82 105.5 C86.5 99 90.3 92 91.8 85 C93 79 93.4 74 92 69.5Z" fill="#f56889" filter="url(#b1)"/>
<path d="M2.5 56 C5 66 10 74 18 80 C26 85.5 36 87.5 46 87" fill="none" stroke="#d33e5c" stroke-width="3.2" filter="url(#b1)" opacity=".55"/>
<path d="M9.5 56 C9.6 62 11.3 67.5 14.2 71.5 C18.3 77.2 24.5 81.2 30 83 C34 84.3 38 85 42 85 C36 81.5 30 77.5 25.2 73.8 C19 68.5 14 62 9.5 56Z" fill="#fff" filter="url(#b03)"/>
<path d="M36.2 5.7 C38.5 4.4 41.5 4 44.8 4.5 C43.5 5.7 41 6.6 38.5 6.6 C37.5 6.5 36.7 6.2 36.2 5.7Z" fill="#fff" filter="url(#b05)"/>
</g>
<path d="M81.3 103.5 C82.5 101 83.5 96 82.5 92.5 C82 90 81 88.5 79.5 87.5 C77.5 86.4 75 85.8 72.5 85.5" fill="none" stroke="#fff" stroke-width="1.3" stroke-linecap="round" filter="url(#b03)"/>
<text class="num" x="29.4" y="56.2" textLength="33.5" lengthAdjust="spacingAndGlyphs">09</text>
</g>
</svg></body></html>
